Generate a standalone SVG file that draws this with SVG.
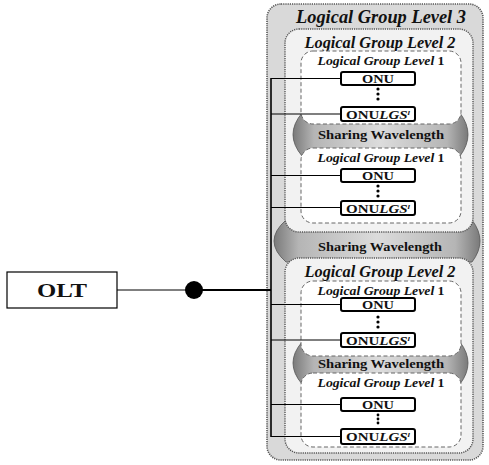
<svg xmlns="http://www.w3.org/2000/svg" width="489" height="465" viewBox="0 0 489 465">
<defs>
<linearGradient id="bandGrad" x1="0" y1="0" x2="1" y2="0">
<stop offset="0" stop-color="#7a7a7a"/>
<stop offset="0.12" stop-color="#b5b5b5"/>
<stop offset="0.5" stop-color="#dcdcdc"/>
<stop offset="0.88" stop-color="#b5b5b5"/>
<stop offset="1" stop-color="#7a7a7a"/>
</linearGradient>
<style>
.l3{fill:#d9d9d9;stroke:#555;stroke-width:1.6;stroke-dasharray:1.2 1}
.l2{fill:#f2f2f2;stroke:#555;stroke-width:1.4;stroke-dasharray:1.2 1}
.l1{fill:#fff;stroke:#666;stroke-width:1;stroke-dasharray:4 2.5}
.band{fill:url(#bandGrad);stroke:#555;stroke-width:0.8}
.onu{fill:#fff;stroke:#000;stroke-width:2}
.t{font-family:"Liberation Serif","Times New Roman",serif;font-weight:bold;fill:#111;text-anchor:middle}
.ti{font-style:italic}
.wire{stroke:#000;fill:none;stroke-width:1.2}
</style>
</defs>
<rect width="489" height="465" fill="#fff"/>

<g id="level3">
<rect class="l3" x="267" y="4" width="216" height="456" rx="14"/>
<text class="t ti" x="381" y="23" font-size="18" textLength="170" lengthAdjust="spacingAndGlyphs">Logical Group Level 3</text>
</g>

<g id="band-big">
<path class="band" d="M286,220 L472,220 Q488,241 472,262 L286,262 Q262,241 286,220 Z"/>
</g>

<g id="level2-top">
<rect class="l2" x="285" y="29" width="188" height="203" rx="14"/>
<text class="t ti" x="380" y="48" font-size="16" textLength="151" lengthAdjust="spacingAndGlyphs">Logical Group Level 2</text>
</g>

<g id="level2-bottom">
<rect class="l2" x="285" y="258" width="188" height="195" rx="14"/>
<text class="t ti" x="380" y="277" font-size="16" textLength="151" lengthAdjust="spacingAndGlyphs">Logical Group Level 2</text>
</g>

<text class="t" x="380" y="251" font-size="13" textLength="124" lengthAdjust="spacingAndGlyphs">Sharing  Wavelength</text>

<g id="band-a">
<path class="band" d="M302,113 L460,113 Q476,134.5 460,156 L302,156 Q284,134.5 302,113 Z"/>
</g>
<g id="band-b">
<path class="band" d="M302,342 L460,342 Q476,363 460,384 L302,384 Q284,363 302,342 Z"/>
</g>

<g id="level1-a">
<rect class="l1" x="301" y="51" width="160" height="73" rx="12"/>
<text class="t ti" x="381" y="65" font-size="13" textLength="127" lengthAdjust="spacingAndGlyphs">Logical Group Level <tspan font-style="normal">1</tspan></text>
</g>
<g id="level1-b">
<rect class="l1" x="301" y="148" width="160" height="75" rx="12"/>
<text class="t ti" x="381" y="162" font-size="13" textLength="127" lengthAdjust="spacingAndGlyphs">Logical Group Level <tspan font-style="normal">1</tspan></text>
</g>
<g id="level1-c">
<rect class="l1" x="301" y="281" width="160" height="75" rx="12"/>
<text class="t ti" x="381" y="295" font-size="13" textLength="127" lengthAdjust="spacingAndGlyphs">Logical Group Level <tspan font-style="normal">1</tspan></text>
</g>
<g id="level1-d">
<rect class="l1" x="301" y="373" width="160" height="74" rx="12"/>
<text class="t ti" x="381" y="387" font-size="13" textLength="127" lengthAdjust="spacingAndGlyphs">Logical Group Level <tspan font-style="normal">1</tspan></text>
</g>

<text class="t" x="381" y="139" font-size="13" textLength="126" lengthAdjust="spacingAndGlyphs">Sharing  Wavelength</text>
<text class="t" x="381" y="368" font-size="13" textLength="126" lengthAdjust="spacingAndGlyphs">Sharing  Wavelength</text>

<g id="connectors">
<line x1="117" y1="290" x2="190" y2="290" stroke="#000" stroke-width="1"/>
<line x1="194" y1="290" x2="271" y2="290" stroke="#000" stroke-width="1.8"/>
<line x1="271" y1="78" x2="271" y2="437" stroke="#000" stroke-width="1.6"/>
<path class="wire" d="M271,78.5H341 M271,114H341 M271,175.5H341 M271,207.5H341 M271,304.5H341 M271,340H341 M271,404.5H341 M271,436.5H341"/>
<circle cx="194" cy="290" r="9" fill="#000"/>
</g>

<g id="olt">
<rect x="7" y="272" width="110" height="36" fill="#fff" stroke="#000" stroke-width="1.2"/>
<text class="t" x="62" y="297" font-size="19" textLength="50" lengthAdjust="spacingAndGlyphs">OLT</text>
</g>

<g id="onu-a1"><rect class="onu" x="341" y="72" width="74" height="13" rx="2"/><text class="t" x="378" y="82.5" font-size="12" textLength="32" lengthAdjust="spacingAndGlyphs">ONU</text></g>
<g id="dots-a" fill="#000"><circle cx="378" cy="89" r="1.6"/><circle cx="378" cy="94" r="1.6"/><circle cx="378" cy="99" r="1.6"/></g>
<g id="onu-a2"><rect class="onu" x="341" y="107" width="74" height="14" rx="2"/><text class="t" x="378" y="118.5" font-size="12" textLength="64" lengthAdjust="spacingAndGlyphs">ONU<tspan font-style="italic">LGS</tspan><tspan font-style="italic" font-size="7" dy="-4">l</tspan></text></g>

<g id="onu-b1"><rect class="onu" x="341" y="169" width="74" height="13" rx="2"/><text class="t" x="378" y="179.5" font-size="12" textLength="32" lengthAdjust="spacingAndGlyphs">ONU</text></g>
<g id="dots-b" fill="#000"><circle cx="378" cy="186" r="1.6"/><circle cx="378" cy="191" r="1.6"/><circle cx="378" cy="196" r="1.6"/></g>
<g id="onu-b2"><rect class="onu" x="341" y="201" width="74" height="14" rx="2"/><text class="t" x="378" y="212.5" font-size="12" textLength="64" lengthAdjust="spacingAndGlyphs">ONU<tspan font-style="italic">LGS</tspan><tspan font-style="italic" font-size="7" dy="-4">l</tspan></text></g>

<g id="onu-c1"><rect class="onu" x="341" y="298" width="74" height="13" rx="2"/><text class="t" x="378" y="308.5" font-size="12" textLength="32" lengthAdjust="spacingAndGlyphs">ONU</text></g>
<g id="dots-c" fill="#000"><circle cx="378" cy="317" r="1.6"/><circle cx="378" cy="322" r="1.6"/><circle cx="378" cy="327" r="1.6"/></g>
<g id="onu-c2"><rect class="onu" x="341" y="333" width="74" height="14" rx="2"/><text class="t" x="378" y="344.5" font-size="12" textLength="64" lengthAdjust="spacingAndGlyphs">ONU<tspan font-style="italic">LGS</tspan><tspan font-style="italic" font-size="7" dy="-4">l</tspan></text></g>

<g id="onu-d1"><rect class="onu" x="341" y="398" width="74" height="13" rx="2"/><text class="t" x="378" y="408.5" font-size="12" textLength="32" lengthAdjust="spacingAndGlyphs">ONU</text></g>
<g id="dots-d" fill="#000"><circle cx="378" cy="415" r="1.4"/><circle cx="378" cy="419" r="1.4"/><circle cx="378" cy="423" r="1.4"/></g>
<g id="onu-d2"><rect class="onu" x="341" y="429" width="74" height="15" rx="2"/><text class="t" x="378" y="441" font-size="12" textLength="64" lengthAdjust="spacingAndGlyphs">ONU<tspan font-style="italic">LGS</tspan><tspan font-style="italic" font-size="7" dy="-4">l</tspan></text></g>
</svg>
